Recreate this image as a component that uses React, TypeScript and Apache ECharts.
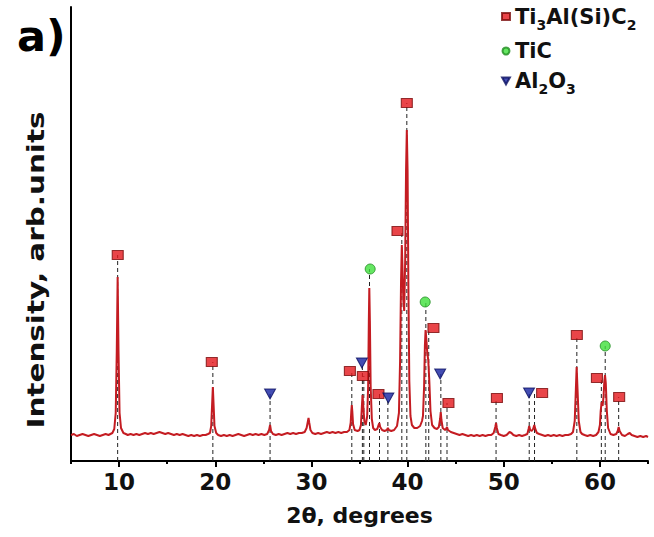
import React, { useEffect, useRef } from "react";
import * as echarts from "echarts";

// ---- data (2θ in degrees, intensity in arbitrary units) ----
const spectrumLow: [number, number][] = [
  [5.0, 26], [5.3, 27], [5.6, 25], [5.9, 26], [6.2, 27], [6.5, 26], [6.8, 25], [7.1, 26], [7.4, 27], [7.7, 26],
  [8.0, 25], [8.3, 26], [8.6, 27], [8.9, 26], [9.1, 27], [9.3, 28],
  [9.5, 32], [9.65, 48], [9.76, 110], [9.85, 184], [9.94, 110], [10.05, 48], [10.2, 33], [10.45, 28], [10.7, 27],
  [10.9, 26], [11.2, 27], [11.5, 26], [11.8, 27], [12.1, 26], [12.4, 27], [12.7, 28], [13.0, 27], [13.3, 28],
  [13.6, 27], [13.9, 28], [14.2, 29], [14.5, 28], [14.8, 27], [15.1, 28], [15.4, 27], [15.7, 26], [16.0, 27],
  [16.3, 26], [16.6, 27], [16.9, 26], [17.2, 25], [17.5, 26], [17.8, 25], [18.1, 26], [18.4, 25], [18.7, 26],
  [19.0, 26], [19.25, 27], [19.45, 28],
  [19.58, 35], [19.68, 58], [19.75, 74], [19.82, 58], [19.92, 35], [20.1, 28], [20.3, 26],
  [20.6, 25], [20.9, 26], [21.2, 25], [21.5, 26], [21.8, 25], [22.1, 26], [22.4, 27], [22.7, 26], [23.0, 25],
  [23.3, 26], [23.6, 27], [23.9, 26], [24.2, 27], [24.5, 26], [24.8, 27], [25.1, 26], [25.4, 27],
  [25.6, 31], [25.7, 36], [25.8, 30], [26.0, 27],
  [26.3, 26], [26.6, 27], [26.9, 26], [27.2, 27], [27.5, 28], [27.8, 27], [28.1, 28], [28.4, 27], [28.7, 28],
  [29.0, 28], [29.3, 29], [29.5, 33],
  [29.62, 39], [29.7, 43], [29.78, 38], [29.9, 31], [30.1, 28],
  [30.4, 27], [30.7, 28], [31.0, 27], [31.3, 28], [31.6, 29], [31.9, 28], [32.2, 29], [32.5, 28], [32.8, 29],
  [33.1, 28], [33.4, 29], [33.7, 29], [33.95, 31],
];

const spectrumMid: [number, number][] = [
  [34.08, 38], [34.15, 50], [34.2, 56], [34.25, 50], [34.33, 37], [34.5, 31], [34.8, 30], [35.0, 31], [35.15, 36],
  [35.25, 55], [35.32, 66], [35.4, 54], [35.5, 40], [35.65, 36], [35.8, 45],
  [35.9, 75], [35.97, 140], [36.02, 173], [36.08, 140], [36.16, 75], [36.28, 42], [36.42, 33], [36.6, 31],
  [36.85, 32], [36.98, 36],
  [37.06, 38], [37.15, 34], [37.35, 31], [37.6, 30], [37.85, 31],
  [37.95, 33], [38.05, 31], [38.3, 30], [38.6, 31], [38.9, 35], [39.1, 48],
  [39.22, 100], [39.32, 180], [39.4, 216], [39.48, 190], [39.56, 160],
  [39.65, 150], [39.75, 200], [39.84, 290], [39.92, 331], [40.0, 290], [40.08, 180], [40.18, 80], [40.3, 45],
  [40.45, 36], [40.7, 33], [41.0, 33], [41.3, 35], [41.5, 40],
  [41.6, 45], [41.72, 75], [41.8, 115], [41.87, 131], [41.95, 122], [42.05, 108], [42.15, 101], [42.26, 80],
  [42.38, 50], [42.55, 36], [42.8, 33], [43.05, 32], [43.25, 34],
  [43.38, 42], [43.45, 49], [43.52, 41], [43.65, 33], [43.9, 31], [44.0, 32],
  [44.1, 34], [44.2, 31], [44.5, 29], [44.8, 28],
];

const spectrumHigh: [number, number][] = [
  [45.1, 27], [45.4, 26], [45.7, 27], [46.0, 26], [46.3, 25], [46.6, 26], [46.9, 25], [47.2, 26], [47.5, 25],
  [47.8, 26], [48.1, 25], [48.4, 26], [48.7, 26], [48.95, 28],
  [49.12, 34], [49.2, 38], [49.28, 33], [49.45, 27], [49.7, 26], [50.0, 25], [50.3, 26], [50.6, 29], [50.8, 28],
  [51.0, 26], [51.3, 25], [51.6, 26], [51.9, 25], [52.2, 26], [52.45, 27],
  [52.58, 32], [52.65, 35], [52.75, 31], [52.9, 30], [53.05, 32], [53.18, 36], [53.28, 32], [53.45, 28],
  [53.7, 27], [54.0, 26],
  [54.3, 25], [54.6, 26], [54.9, 25], [55.2, 26], [55.5, 25], [55.8, 26], [56.1, 25], [56.4, 26], [56.7, 26],
  [57.0, 27], [57.2, 29],
  [57.38, 40], [57.5, 72], [57.58, 94], [57.67, 72], [57.8, 40], [57.98, 29], [58.15, 27],
  [58.4, 26], [58.7, 25], [59.0, 26], [59.3, 25], [59.6, 26], [59.85, 29], [60.0, 36],
  [60.08, 50], [60.18, 59], [60.28, 55], [60.38, 65], [60.46, 80], [60.53, 86], [60.61, 78], [60.72, 50],
  [60.85, 33], [61.1, 27], [61.4, 26], [61.7, 27], [61.85, 30],
  [61.95, 34], [62.05, 30], [62.3, 26],
  [62.6, 25], [62.9, 27], [63.1, 28], [63.3, 26], [63.6, 25], [63.9, 24], [64.2, 25], [64.5, 24], [64.8, 25], [65.0, 24],
];

// Ti3Al(Si)C2 reflections: dashed-line position, marker position, marker height
const maxLines = [9.85, 19.75, 34.2, 35.45, 37.08, 39.4, 39.92, 42.2, 44.1, 49.2, 53.2, 57.6, 60.15, 61.95];
const maxMarkX = [9.86, 19.64, 34.0, 35.35, 36.97, 38.95, 39.92, 42.69, 44.25, 49.29, 53.99, 57.6, 59.69, 62.0];
const maxMarkY = [206, 99, 90, 85, 67, 230, 358, 133, 58, 63, 68, 126, 83, 64];

// TiC reflections
const ticLines = [36.04, 41.9, 60.55];
const ticMarkX = [36.11, 41.83, 60.55];
const ticMarkY = [192, 159, 115];

// Al2O3 reflections
const aloLines = [25.7, 35.3, 37.95, 43.46, 52.65];
const aloMarkX = [25.7, 35.25, 38.0, 43.39, 52.63];
const aloMarkY = [67, 98, 63, 87, 68];

const majorTicks = [10, 20, 30, 40, 50, 60];
const minorTicks = [5, 15, 25, 35, 45, 55, 65];

const FONT = '"DejaVu Sans", "Liberation Sans", Arial, sans-serif';

export default function App() {
  const ref = useRef<HTMLDivElement>(null);

  useEffect(() => {
    if (!ref.current) return;
    const chart = echarts.init(ref.current, undefined, { renderer: "svg" });

    const spectrum = [...spectrumLow, ...spectrumMid, ...spectrumHigh];
    const dashRows: [number, number][] = [
      ...maxLines.map((x, i) => [x, maxMarkY[i]] as [number, number]),
      ...ticLines.map((x, i) => [x, ticMarkY[i]] as [number, number]),
      ...aloLines.map((x, i) => [x, aloMarkY[i]] as [number, number]),
    ];

    const rich = {
      m: { fontSize: 21, fontWeight: "bold", fontFamily: FONT, color: "#111", lineHeight: 30 },
      s: { fontSize: 14, fontWeight: "bold", fontFamily: FONT, color: "#111", lineHeight: 14, verticalAlign: "bottom" },
    };

    chart.setOption({
      animation: false,
      backgroundColor: "#ffffff",
      grid: { left: 71, right: 6, top: 7, bottom: 76, containLabel: false },
      xAxis: [
        {
          type: "value",
          min: 5,
          max: 65,
          interval: 5,
          name: "2θ, degrees",
          nameLocation: "middle",
          nameGap: 43,
          nameTextStyle: { fontSize: 22, fontWeight: "bold", fontFamily: FONT, color: "#111" },
          axisLine: { show: true, lineStyle: { color: "#000", width: 2 } },
          axisTick: { show: true, customValues: majorTicks, length: 6, lineStyle: { color: "#000", width: 2 } },
          axisLabel: {
            show: true,
            customValues: majorTicks,
            fontSize: 23,
            fontWeight: "bold",
            fontFamily: FONT,
            color: "#111",
            margin: 9,
          },
          splitLine: { show: false },
        },
        {
          type: "value",
          min: 5,
          max: 65,
          interval: 5,
          position: "bottom",
          axisLine: { show: false },
          axisTick: { show: true, customValues: minorTicks, length: 3, lineStyle: { color: "#000", width: 2 } },
          axisLabel: { show: false },
          splitLine: { show: false },
        },
      ],
      yAxis: {
        type: "value",
        min: 0,
        max: 454,
        axisLine: { show: true, lineStyle: { color: "#000", width: 2 } },
        axisTick: { show: false },
        axisLabel: { show: false },
        splitLine: { show: false },
      },
      legend: {
        orient: "vertical",
        left: 496,
        top: 1,
        itemWidth: 8,
        itemHeight: 7,
        itemGap: 9,
        data: [
          { name: "Ti3Al(Si)C2", icon: "rect" },
          { name: "TiC", icon: "circle" },
          { name: "Al2O3", icon: "path://M0,0 L10,0 L5,9 Z" },
        ],
        formatter: (name: string) => {
          if (name === "Ti3Al(Si)C2") return "{m|Ti}{s|3}{m|Al(Si)C}{s|2}";
          if (name === "Al2O3") return "{m|Al}{s|2}{m|O}{s|3}";
          return "{m|" + name + "}";
        },
        textStyle: { rich },
      },
      graphic: [
        {
          type: "text",
          x: 36,
          y: 270,
          rotation: Math.PI / 2,
          scaleX: 1.28,
          style: {
            text: "Intensity, arb.units",
            font: "bold 23px " + FONT,
            fill: "#111",
            textAlign: "center",
            textVerticalAlign: "middle",
          },
        },
        {
          type: "text",
          left: 17,
          top: 14,
          style: { text: "a)", font: "bold 43px " + FONT, fill: "#000" },
        },
      ],
      series: [
        {
          type: "custom",
          name: "guides",
          z: 1,
          silent: true,
          data: dashRows,
          renderItem: (_params: any, api: any) => {
            const top = api.coord([api.value(0), api.value(1)]);
            const bottom = api.coord([api.value(0), 0]);
            return {
              type: "line",
              shape: { x1: bottom[0], y1: bottom[1], x2: top[0], y2: top[1] },
              style: { stroke: "#222", lineWidth: 1, lineDash: [4, 3] },
            };
          },
        },
        {
          type: "line",
          name: "pattern",
          z: 2,
          data: spectrum,
          showSymbol: false,
          symbol: "none",
          lineStyle: { color: "#c41c22", width: 2 },
        },
        {
          type: "scatter",
          name: "Ti3Al(Si)C2",
          z: 3,
          symbol: "rect",
          symbolSize: [11, 9],
          data: maxMarkX.map((x, i) => [x, maxMarkY[i]]),
          itemStyle: { color: "#e3161b", borderColor: "#7a0b0b", borderWidth: 1 },
        },
        {
          type: "scatter",
          name: "TiC",
          z: 3,
          symbol: "circle",
          symbolSize: 10,
          data: ticMarkX.map((x, i) => [x, ticMarkY[i]]),
          itemStyle: { color: "#3fe03b", borderColor: "#1d8a1d", borderWidth: 1 },
        },
        {
          type: "scatter",
          name: "Al2O3",
          z: 3,
          symbol: "triangle",
          symbolRotate: 180,
          symbolSize: [11, 10],
          data: aloMarkX.map((x, i) => [x, aloMarkY[i]]),
          itemStyle: { color: "#1420a0", borderColor: "#0a0f60", borderWidth: 1 },
        },
      ],
    });

    return () => chart.dispose();
  }, []);

  return <div ref={ref} style={{ width: 654, height: 537, position: "absolute", left: 0, top: 0 }} />;
}
